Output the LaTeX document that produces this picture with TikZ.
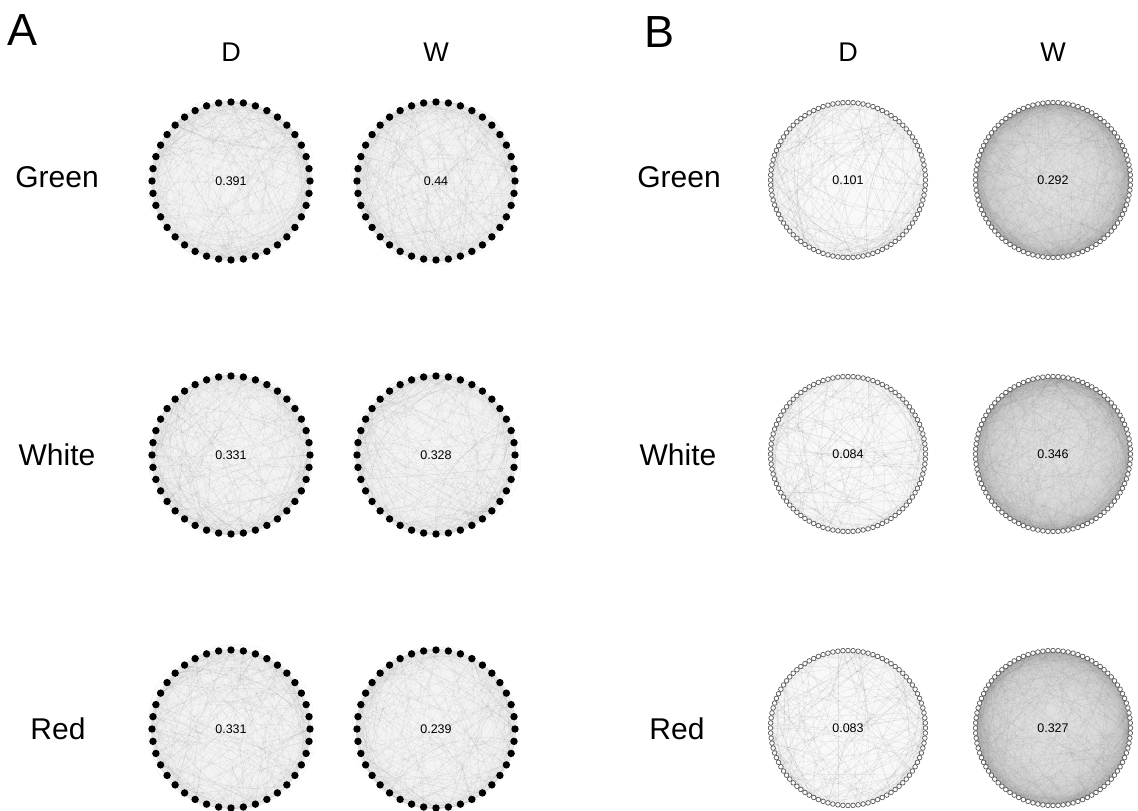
\documentclass[tikz,border=0pt]{standalone}
\usepackage{fontspec}
\setmainfont{Liberation Sans}
\pgfdeclareradialshading{rimshade}{\pgfpoint{0bp}{0bp}}{color(0bp)=(black!11); color(14bp)=(black!14); color(21bp)=(black!19); color(24bp)=(black!28); color(25bp)=(black!34); color(50bp)=(black!34)}
\pgfdeclareradialshading{rimlight}{\pgfpoint{0bp}{0bp}}{color(0bp)=(black!4); color(20bp)=(black!5); color(25bp)=(black!9); color(50bp)=(black!9)}
\pgfdeclareradialshading{rimwhite}{\pgfpoint{0bp}{0bp}}{color(0bp)=(black!2); color(22bp)=(black!3); color(25bp)=(black!5); color(50bp)=(black!5)}
\tikzset{
  dotnode/.style={circle, fill=black, inner sep=0pt, minimum size=7.4pt},
  ringnode/.style={circle, draw=black!65, fill=white, line width=0.7pt, inner sep=0pt, minimum size=4.6pt},
  edgeA/.style={draw=black, opacity=0.06, line width=0.35pt},
  edgeD/.style={draw=black, opacity=0.08, line width=0.4pt},
  edgeW/.style={draw=black, opacity=0.045, line width=0.35pt},
  rowlab/.style={font=\fontsize{30}{36}\selectfont},
  collab/.style={font=\fontsize{27}{32}\selectfont},
  panlab/.style={font=\fontsize{45}{54}\selectfont},
  val/.style={font=\fontsize{12.5}{15}\selectfont},
}
% #1 name, #2 cx, #3 cy, #4 value, #5 seed
\newcommand\dotnet[5]{%
  \shade[shading=rimlight] (#2,#3) circle (80);
  \foreach \i in {1,...,40}{\coordinate (#1-\i) at ({#2+79*cos(9*\i-90)},{#3+79*sin(9*\i-90)});}
  \pgfmathsetseed{#5}
  \foreach \k in {1,...,260}{
    \pgfmathrandominteger{\na}{1}{40}
    \pgfmathrandominteger{\nd}{1}{39}
    \pgfmathtruncatemacro{\nb}{mod(\na+\nd-1,40)+1}
    \pgfmathrandominteger{\nbend}{-50}{50}
    \draw[edgeA] (#1-\na) to[bend left=\nbend] (#1-\nb);
  }
  \foreach \i in {1,...,40}{\node[dotnode] (#1-n\i) at (#1-\i) {};}
  \node[val] (#1-v) at (#2,#3) {#4};
}
% #1 name, #2 cx, #3 cy, #4 value, #5 seed, #6 edges, #7 shading, #8 edge style
\newcommand\ringnet[8]{%
  \shade[shading=#7] (#2,#3) circle (78);
  \foreach \i in {1,...,96}{\coordinate (#1-\i) at ({#2+77.5*cos(3.75*\i-90)},{#3+77.5*sin(3.75*\i-90)});}
  \pgfmathsetseed{#5}
  \foreach \k in {1,...,#6}{
    \pgfmathrandominteger{\na}{1}{96}
    \pgfmathrandominteger{\nd}{1}{95}
    \pgfmathtruncatemacro{\nb}{mod(\na+\nd-1,96)+1}
    \pgfmathrandominteger{\nbend}{-20}{20}
    \draw[#8] (#1-\na) to[bend left=\nbend] (#1-\nb);
  }
  \foreach \i in {1,...,96}{\node[ringnode] (#1-n\i) at (#1-\i) {};}
  \node[val] (#1-v) at (#2,#3) {#4};
}
\begin{document}
\begin{tikzpicture}[x=1pt,y=-1pt]
\useasboundingbox[fill=white] (0,0) rectangle (1138,811);
% panel letters
\node[panlab] (A) at (23,30) {A};
\node[panlab] (B) at (659,32) {B};
% column headers
\node[collab] (AD) at (231,52) {D};
\node[collab] (AW) at (436,52) {W};
\node[collab] (BD) at (848,52) {D};
\node[collab] (BW) at (1053,52) {W};
% row labels
\node[rowlab] (AG) at (57,177) {Green};
\node[rowlab] (AWh) at (57,455) {White};
\node[rowlab] (AR) at (58,729) {Red};
\node[rowlab] (BG) at (679,177) {Green};
\node[rowlab] (BWh) at (678,455) {White};
\node[rowlab] (BR) at (677,729) {Red};
% panel A
\dotnet{aGD}{231}{181}{0.391}{11}
\dotnet{aGW}{436}{181}{0.44}{12}
\dotnet{aWD}{231}{455}{0.331}{13}
\dotnet{aWW}{436}{455}{0.328}{14}
\dotnet{aRD}{231}{729}{0.331}{15}
\dotnet{aRW}{436}{729}{0.239}{16}
% panel B
\ringnet{bGD}{848}{180}{0.101}{21}{170}{rimwhite}{edgeD}
\ringnet{bGW}{1053}{180}{0.292}{22}{420}{rimshade}{edgeW}
\ringnet{bWD}{848}{454}{0.084}{23}{170}{rimwhite}{edgeD}
\ringnet{bWW}{1053}{454}{0.346}{24}{420}{rimshade}{edgeW}
\ringnet{bRD}{848}{728}{0.083}{25}{170}{rimwhite}{edgeD}
\ringnet{bRW}{1053}{728}{0.327}{26}{420}{rimshade}{edgeW}
\end{tikzpicture}
\end{document}
